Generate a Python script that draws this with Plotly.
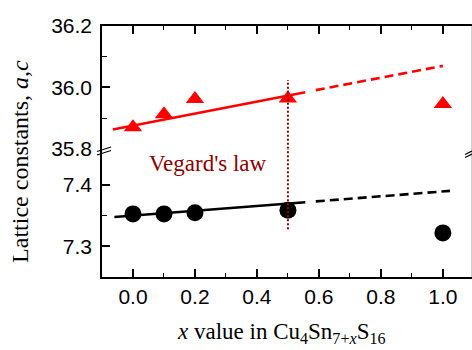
import plotly.graph_objects as go

# Composition x in Cu4Sn(7+x)S16
x_vals = [0.0, 0.1, 0.2, 0.5, 1.0]
# Lattice constant c (upper panel) and a (lower panel)
c_vals = [35.870, 35.912, 35.962, 35.964, 35.946]
a_vals = [7.353, 7.353, 7.355, 7.359, 7.322]

# Vegard's law: solid over the fitted span, dashed extrapolation
c_fit_x = [-0.065, 0.556]
c_fit_y = [35.863, 35.984]
c_ext_x = [0.59, 1.0]
c_ext_y = [35.991, 36.070]
a_fit_x = [-0.06, 0.556]
a_fit_y = [7.348, 7.372]
a_ext_x = [0.59, 1.023]
a_ext_y = [7.3734, 7.3905]

vegard_x = 0.5
vegard_top_c = 36.024
vegard_bottom_a = 7.328

x_ticks = [0.0, 0.2, 0.4, 0.6, 0.8, 1.0]
x_minor = [0.1, 0.3, 0.5, 0.7, 0.9]
a_ticks = [7.3, 7.4]
c_ticks = [35.8, 36.0, 36.2]

RED = "#ff0000"
DARKRED = "#8b0000"
SANS = "Liberation Sans, Arial, sans-serif"
SERIF = "Liberation Serif, Times New Roman, serif"

X_RANGE = [-0.1, 1.094]
A_RANGE = [7.25, 7.4593]
C_RANGE = [35.8, 36.2]

fig = go.Figure()

# upper panel: c
fig.add_trace(go.Scatter(x=c_fit_x, y=c_fit_y, mode="lines",
                         line=dict(color=RED, width=2.6), xaxis="x2", yaxis="y2"))
fig.add_trace(go.Scatter(x=c_ext_x, y=c_ext_y, mode="lines",
                         line=dict(color=RED, width=2.6, dash="9px,5px"), xaxis="x2", yaxis="y2"))
fig.add_trace(go.Scatter(x=x_vals, y=c_vals, mode="markers",
                         marker=dict(symbol="triangle-up", size=16, color=RED),
                         xaxis="x2", yaxis="y2"))

# lower panel: a
fig.add_trace(go.Scatter(x=a_fit_x, y=a_fit_y, mode="lines",
                         line=dict(color="black", width=2.6), xaxis="x", yaxis="y"))
fig.add_trace(go.Scatter(x=a_ext_x, y=a_ext_y, mode="lines",
                         line=dict(color="black", width=2.6, dash="9px,5px"), xaxis="x", yaxis="y"))
fig.add_trace(go.Scatter(x=x_vals, y=a_vals, mode="markers",
                         marker=dict(symbol="circle", size=17, color="black"),
                         xaxis="x", yaxis="y"))

split = 0.511
axis_common = dict(showline=True, linecolor="black", linewidth=1.5, showgrid=False,
                   zeroline=False, ticks="inside", ticklen=8, tickwidth=1.5,
                   tickcolor="black", tickfont=dict(family=SANS, size=21, color="black"))
x_minor_ticks = dict(ticks="inside", ticklen=4, tickwidth=1.2, tickcolor="black",
                     tickvals=x_minor)

fig.update_layout(
    width=472, height=350,
    margin=dict(l=102, r=0, t=26, b=73),
    paper_bgcolor="white", plot_bgcolor="white",
    showlegend=False,
    xaxis=dict(**axis_common, range=X_RANGE, tickvals=x_ticks,
               ticktext=[f"{v:.1f}" for v in x_ticks], anchor="y",
               minor=x_minor_ticks),
    xaxis2=dict(**axis_common, range=X_RANGE, matches="x", anchor="y2", side="top",
                tickvals=x_ticks, showticklabels=False, minor=x_minor_ticks),
    yaxis=dict(**axis_common, domain=[0, split], range=A_RANGE, anchor="x",
               tickvals=a_ticks, ticktext=[f"{v:.1f}" for v in a_ticks],
               ticklabelstandoff=4,
               minor=dict(ticks="inside", ticklen=5, tickwidth=1.2, tickcolor="black",
                          tickvals=[7.35])),
    yaxis2=dict(**axis_common, domain=[split, 1], range=C_RANGE, anchor="x2",
                tickvals=c_ticks, ticktext=[f"{v:.1f}" for v in c_ticks],
                ticklabelstandoff=4,
                minor=dict(ticks="inside", ticklen=5, tickwidth=1.2, tickcolor="black",
                           tickvals=[35.9, 36.1])),
)

shapes = [
    # Vegard's law marker at x = 0.5 across both panels
    dict(type="line", xref="x2", yref="y2", x0=vegard_x, x1=vegard_x, y0=C_RANGE[0], y1=vegard_top_c,
         line=dict(color=DARKRED, width=2, dash="2px,2px"), layer="above"),
    dict(type="line", xref="x", yref="y", x0=vegard_x, x1=vegard_x, y0=vegard_bottom_a, y1=A_RANGE[1],
         line=dict(color=DARKRED, width=2, dash="2px,2px"), layer="above"),
    # right frame edge
    dict(type="line", xref="paper", yref="paper", x0=1, x1=1, y0=0, y1=1,
         line=dict(color="#c0c0c0", width=1.5)),
]


def px_to_paper(px, py):
    return (px - 102) / 370, (277 - py) / 251


# axis-break marks on both sides
for (ax0, ay0, ax1, ay1) in [(97, 151.5, 111, 147), (97, 155, 111, 150.5),
                              (465, 154.5, 472, 151), (465, 157.5, 472, 154)]:
    p0 = px_to_paper(ax0, ay0)
    p1 = px_to_paper(ax1, ay1)
    shapes.append(dict(type="line", xref="paper", yref="paper",
                       x0=p0[0], y0=p0[1], x1=p1[0], y1=p1[1],
                       line=dict(color="black", width=1.2)))

fig.update_layout(shapes=shapes)

fig.add_annotation(text="Vegard's law", xref="x", yref="y", x=0.2435, y=7.436,
                   showarrow=False, font=dict(family=SERIF, size=23, color=DARKRED))
fig.add_annotation(text="<i>x</i> value in Cu<sub>4</sub>Sn<sub>7+<i>x</i></sub>S<sub>16</sub>",
                   xref="paper", yref="paper", x=0.485, y=-0.225,
                   xanchor="center", yanchor="middle", showarrow=False,
                   font=dict(family=SERIF, size=23, color="black"))
fig.add_annotation(text="Lattice constants, <i>a</i>,<i>c</i>",
                   xref="paper", yref="paper", x=-0.222, y=0.462,
                   xanchor="center", yanchor="middle", textangle=-90, showarrow=False,
                   font=dict(family=SERIF, size=24, color="black"))

fig.write_html("out.html")
